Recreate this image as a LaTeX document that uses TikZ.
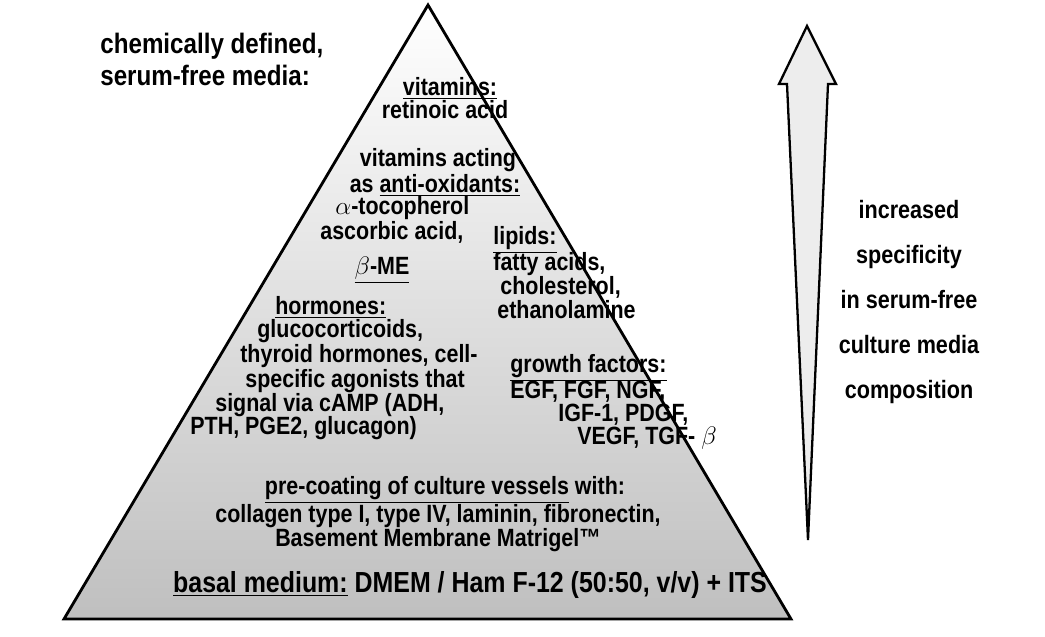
\documentclass[tikz,border=0pt]{standalone}
\usepackage{fontspec}
\setmainfont{Liberation Sans}[FakeStretch=0.86]
\usepackage{tikz}
\usetikzlibrary{positioning}
\definecolor{lightgray}{gray}{0.93}
\definecolor{basegray}{gray}{0.75}
\newcommand{\ul}[1]{\underline{#1}}

\tikzset{
    txt/.style={font=\bfseries\fontsize{14.2}{16}\selectfont, inner sep=0pt},
    lft/.style={txt, anchor=west},
    big/.style={font=\bfseries\fontsize{16.5}{18}\selectfont, inner sep=0pt},
}

\begin{document}
\begin{tikzpicture}[x=0.02cm, y=-0.02cm, line join=miter]

    \useasboundingbox (0, 0) rectangle (1045, 636);

    % pyramid
    \coordinate (apex) at (428, 5);
    \coordinate (bl) at (64, 619);
    \coordinate (br) at (791, 619);
    \shade[top color=white, bottom color=basegray] (apex) -- (br) -- (bl) -- cycle;
    \draw[line width=1.6pt] (apex) -- (br) -- (bl) -- cycle;

    % arrow
    \coordinate (tip) at (807, 26);
    \coordinate (hl) at (779, 84);
    \coordinate (hr) at (836, 84);
    \coordinate (sl) at (787, 84);
    \coordinate (sr) at (828, 84);
    \coordinate (bot) at (808, 540);
    \filldraw[fill=lightgray, line width=1.3pt] (tip) -- (hr) -- (sr) -- (bot) -- (sl) -- (hl) -- cycle;

    % heading
    \node[big, anchor=west, font=\bfseries\fontsize{16}{18}\selectfont] (head1) at (100, 46) {chemically defined,};
    \node[big, anchor=west, font=\bfseries\fontsize{16}{18}\selectfont] (head2) at (100, 75) {serum-free media:};

    % top
    \node[txt] (vit) at (450, 88) {\ul{vitamins:}};
    \node[txt] (ret) at (445, 110) {retinoic acid};

    \node[txt] (act) at (438, 160) {vitamins acting};
    \node[txt] (anti) at (435, 185) {as \ul{anti-oxidants:}};
    \node[lft] (toco) at (335, 208) {$\alpha$-tocopherol};
    \node[lft] (asc) at (320, 232) {ascorbic acid,};
    \node[txt] (me) at (382, 270) {\ul{$\beta$-ME}};

    % lipids
    \node[lft] (lip) at (493, 240) {\ul{lipids:}};
    \node[lft] (fat) at (493, 264) {fatty acids,};
    \node[lft] (chol) at (500, 287) {cholesterol,};
    \node[lft] (eth) at (497, 310) {ethanolamine};

    % hormones
    \node[lft] (hor) at (275, 307) {\ul{hormones:}};
    \node[lft] (gluc) at (257, 331) {glucocorticoids,};
    \node[lft] (thy) at (240, 356) {thyroid hormones, cell-};
    \node[lft] (spec) at (245, 381) {specific agonists that};
    \node[lft] (sig) at (215, 405) {signal via cAMP (ADH,};
    \node[lft] (pth) at (190, 428) {PTH, PGE2, glucagon)};

    % growth factors
    \node[lft] (gf) at (510, 368) {\ul{growth factors:}};
    \node[lft] (egf) at (510, 392) {EGF, FGF, NGF,};
    \node[lft] (igf) at (558, 415) {IGF-1, PDGF,};
    \node[lft] (vegf) at (577, 438) {VEGF, TGF- $\beta$};

    % coating
    \node[txt] (coat) at (445, 490) {\ul{pre-coating of culture vessels} with:};
    \node[txt] (coll) at (438, 516) {collagen type I, type IV, laminin, fibronectin,};
    \node[txt] (mat) at (438, 540) {Basement Membrane Matrigel\texttrademark};

    % basal
    \node[big] (basal) at (470, 585) {\ul{basal medium:} DMEM / Ham F-12 (50:50, v/v) + ITS};

    % right text
    \node[txt, align=center, font=\bfseries\fontsize{14.3}{25.5}\selectfont] (incr) at (909, 302)
        {increased\\specificity\\in serum-free\\culture media\\composition};

\end{tikzpicture}
\end{document}
